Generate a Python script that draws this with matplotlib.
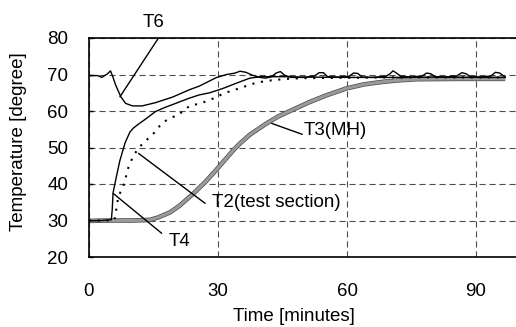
import matplotlib
matplotlib.use("Agg")
import matplotlib.pyplot as plt
import matplotlib.patheffects as pe

# time [min] / temperature [degree]
t6_time = [0, 2, 3, 3.5, 4.3, 5.0, 5.5, 6.2, 7.4, 8.5, 10.1, 12.4, 15.5, 19.4, 23.3, 25.6,
           29.7, 32, 34, 35.1, 36.5, 38, 39.8, 41, 42.5, 43.5, 44.5, 45.5, 47, 50, 52.5,
           53.5, 54.5, 55.5, 58, 60.5, 61.5, 62.5, 63.5, 66, 69, 70, 70.7, 71.5, 72.5, 75,
           77.5, 78.5, 79.5, 80.5, 83, 85.5, 86.7, 87.7, 88.7, 91, 93.5, 94.5, 95.5, 96.8]
t6_temp = [69.7, 69.7, 69.2, 69.6, 70.2, 71.0, 69.5, 67.1, 63.9, 62.1, 61.4, 61.4, 62.3, 63.8, 65.8, 66.8,
           69.2, 70.0, 70.4, 70.9, 70.6, 69.8, 69.2, 69.0, 69.4, 70.4, 70.8, 69.8, 69.2, 69.2, 69.6,
           70.5, 70.5, 69.4, 69.3, 69.5, 70.4, 70.3, 69.3, 69.2, 69.5, 70.2, 71.0, 70.4, 69.5, 69.3,
           69.6, 70.4, 70.2, 69.4, 69.3, 69.6, 70.5, 70.2, 69.4, 69.3, 69.6, 70.6, 70.4, 69.3]

t4_time = [0, 3, 5.2, 5.4, 5.6, 6.4, 7.2, 8.4, 9.5, 10.3, 11.5, 13.4, 15.4, 17.5, 20.4, 23.3,
           25.6, 28.1, 31.2, 34, 37.4, 40, 45, 50, 60, 70, 80, 90, 96.8]
t4_temp = [29.9, 30.0, 30.2, 33.0, 37.6, 42.2, 46.5, 51.3, 54.2, 55.3, 56.4, 58.0, 59.8, 60.9, 62.2, 63.5,
           64.4, 65.0, 66.2, 67.5, 69.0, 69.4, 69.4, 69.3, 69.2, 69.2, 69.3, 69.2, 69.2]

t2_time = [0, 5.8, 6.0, 6.4, 6.8, 8.0, 8.4, 9.1, 9.9, 10.7, 11.5, 12.6, 13.8, 15.4, 16.5, 17.3,
           19.6, 20.4, 23.5, 25.8, 29.7, 31.2, 34.4, 39.0, 42.4, 46, 50, 60, 70, 80, 90, 96.8]
t2_temp = [30.0, 30.0, 30.7, 33.4, 36.5, 39.5, 41.1, 44.3, 46.6, 48.4, 49.8, 51.2, 52.5, 54.3, 56.0, 57.0,
           58.4, 58.6, 61.5, 62.0, 63.8, 64.8, 66.0, 67.8, 68.4, 68.8, 69.0, 69.1, 69.2, 69.2, 69.2, 69.2]

t3_time = [0, 5, 10, 13, 14.2, 16, 18.8, 21, 24.3, 27, 29.7, 33.6, 35.1, 37.4, 41.3, 44, 47.5,
           51, 55, 59.9, 64, 68.4, 72, 76.2, 85, 96.8]
t3_temp = [29.9, 30.0, 30.0, 30.1, 30.2, 30.8, 32.2, 34.0, 37.4, 40.5, 44.0, 49.3, 51.1, 53.5, 56.6, 58.5, 60.4,
           62.3, 64.2, 66.2, 67.3, 68.0, 68.4, 68.7, 68.8, 68.8]

x_ticks = [0, 30, 60, 90]
y_ticks = [20, 30, 40, 50, 60, 70, 80]

plt.rcParams['font.family'] = ['Liberation Sans', 'DejaVu Sans']
fs = 13.5

fig = plt.figure(figsize=(5.16, 3.27), dpi=100)
ax = fig.add_axes([89 / 516, 70 / 327, 427 / 516, 219 / 327])

ax.plot(t3_time, t3_temp, color='#9a9a9a', lw=2.2, solid_capstyle='butt',
        path_effects=[pe.Stroke(linewidth=3.3, foreground='#505050'), pe.Normal()])
ax.plot(t2_time, t2_temp, color='black', lw=1.5, linestyle=(0, (1, 3.2)))
ax.plot(t4_time, t4_temp, color='black', lw=1.0)
ax.plot(t6_time, t6_temp, color='black', lw=1.0)

ax.set_xlim(0, 99.3)
ax.set_ylim(20, 80)
ax.set_xticks(x_ticks)
ax.set_yticks(y_ticks)
ax.grid(True, color='0.3', lw=0.8, linestyle=(0, (5.5, 3.5)))
ax.set_axisbelow(True)
ax.tick_params(axis='both', direction='in', length=3, width=1, labelsize=fs)
ax.tick_params(axis='y', pad=15)
ax.tick_params(axis='x', pad=19, length=0)
for s in ['left', 'bottom', 'top']:
    ax.spines[s].set_linewidth(1.2)
ax.spines['right'].set_visible(False)

ax.set_xlabel('Time [minutes]', fontsize=fs)
ax.xaxis.set_label_coords(0.48, -0.232)
ax.xaxis.label.set_va('top')
ax.set_ylabel('Temperature [degree]', fontsize=fs)
ax.yaxis.set_label_coords(-0.145, 0.525)

# labels with leader lines: (text, text pos, align, line start, line end)
labels = [
    ('T6', (15.1, 83.1), 'center', (16.1, 79.9), (7.2, 63.9)),
    ('T3(MH)', (50.0, 53.4), 'left', (49.6, 53.6), (42.5, 56.6)),
    ('T2(test section)', (28.5, 33.6), 'left', (27.0, 34.7), (11.5, 48.4)),
    ('T4', (18.5, 23.1), 'left', (16.9, 26.5), (5.65, 37.4)),
]
for txt, pos, ha, p0, p1 in labels:
    ax.text(pos[0], pos[1], txt, fontsize=fs, ha=ha, va='baseline', clip_on=False)
    ax.annotate('', xy=p1, xytext=p0, annotation_clip=False,
                arrowprops=dict(arrowstyle='-', lw=1.0, color='black', shrinkA=0, shrinkB=0))

fig.savefig('out.png', dpi=100)
